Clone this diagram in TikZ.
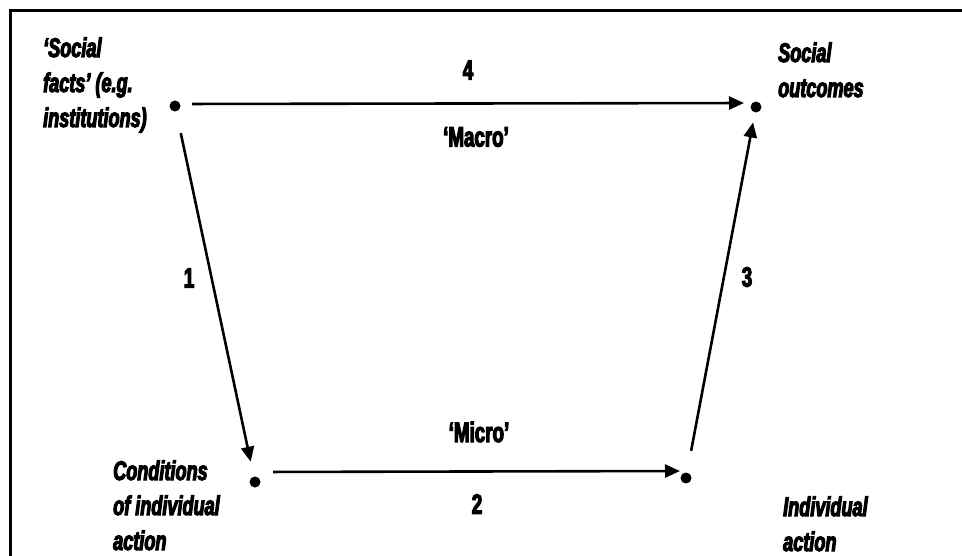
\documentclass[tikz,border=0pt]{standalone}
\usepackage{fontspec}
\setmainfont{Liberation Sans}[FakeStretch=0.67,FakeBold=4]
\usetikzlibrary{arrows.meta,calc}
\begin{document}
\begin{tikzpicture}[x=1pt,y=-1pt,
  dot/.style={circle,fill=black,inner sep=0pt,minimum size=11pt},
  arr/.style={line width=2.6pt,-{Triangle[length=15pt,width=13pt]}},
  lab/.style={inner sep=0pt,anchor=base west,align=left,
    font=\fontsize{27}{35}\selectfont\bfseries\itshape},
  num/.style={inner sep=0pt,font=\fontsize{28}{30}\selectfont\bfseries},
  frame/.style={line width=3pt}]
\useasboundingbox (0,0) rectangle (962,556);
\coordinate (fl) at (10,556);
\coordinate (ftl) at (10,11);
\coordinate (ftr) at (962,11);
\draw[frame] (fl) -- (ftl) -- (ftr);
% dots
\node[dot] (A) at (175,106) {};
\node[dot] (B) at (756,107) {};
\node[dot] (C) at (255,482) {};
\node[dot] (D) at (686,478) {};
% labels (anchored at the baseline of the last line)
\node[lab] (lA) at (43,127) {‘Social\\facts’ (e.g.\\institutions)};
\node[lab] (lB) at (778,97) {Social\\outcomes};
\node[lab] (lC) at (113,550) {Conditions\\of individual\\action};
\node[lab] (lD) at (783,551) {Individual\\action};
% arrows
\draw[arr,shorten <=17pt,shorten >=12pt] ($(A)+(0,-2)$) -- ($(B)+(0,-4)$);
\draw[arr,shorten <=22pt,shorten >=15pt] (A) -- (C);
\draw[arr,shorten <=18pt,shorten >=6pt] ($(C)+(0,-10)$) -- ($(D)+(0,-7)$);
\draw[arr,shorten <=22pt,shorten >=10pt] (D) -- (B);
% numbers and words
\node[num] (n4) at (468,70) {4};
\node[num] (n1) at (189,278) {1};
\node[num] (n3) at (747,277) {3};
\node[num] (n2) at (477,504) {2};
\node[num] (macro) at (476,137) {‘Macro’};
\node[num] (micro) at (479,432) {‘Micro’};
\end{tikzpicture}
\end{document}
